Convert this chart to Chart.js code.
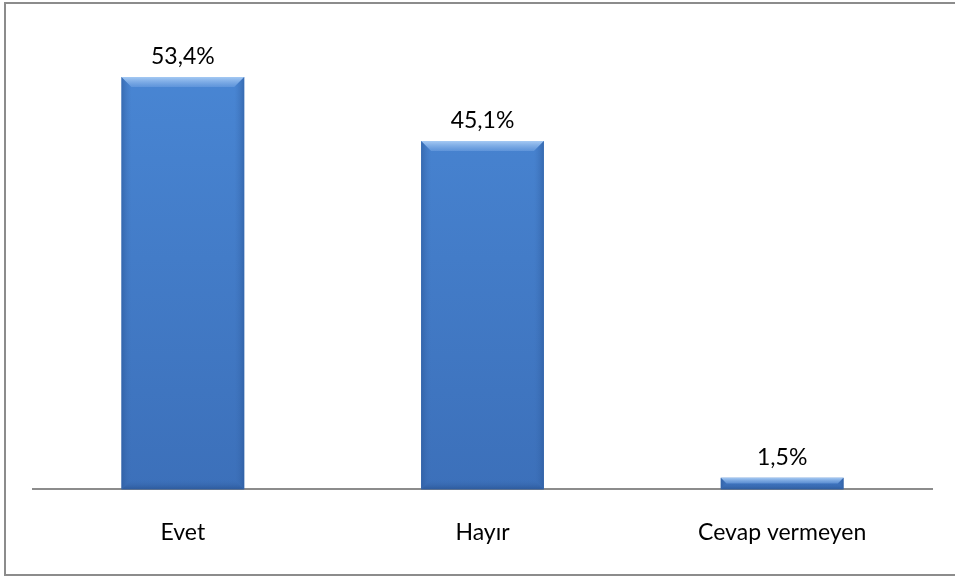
<!DOCTYPE html>
<html>
<head>
<meta charset="utf-8">
<script src="https://cdn.jsdelivr.net/npm/chart.js@4/dist/chart.umd.min.js"></script>
<style>
  html, body { margin: 0; padding: 0; background: #fff; }
  #wrap { width: 955px; height: 576px; position: relative; }
</style>
</head>
<body>
<div id="wrap"><canvas id="c" width="955" height="576"></canvas></div>
<script>
const categories = ["Evet", "Hayır", "Cevap vermeyen"];
const values = [53.4, 45.1, 1.5];
const valueLabels = ["53,4%", "45,1%", "1,5%"];

const FONT = "Lato, 'Open Sans', sans-serif";

const framePlugin = {
  id: 'frame',
  beforeDraw(chart) {
    const ctx = chart.ctx;
    ctx.save();
    ctx.fillStyle = '#fff';
    ctx.fillRect(0, 0, chart.width, chart.height);
    ctx.strokeStyle = '#8c8c8c';
    ctx.lineWidth = 2;
    ctx.strokeRect(5, 3, 970, 572);
    ctx.restore();
  }
};

const bevelPlugin = {
  id: 'bevel',
  afterDatasetsDraw(chart) {
    const ctx = chart.ctx;
    const meta = chart.getDatasetMeta(0);
    meta.data.forEach((bar, i) => {
      const { x, y, base, width } = bar.getProps(['x', 'y', 'base', 'width'], true);
      const l = x - width / 2, r = x + width / 2, t = y, b = base;
      const h = b - t;
      const e = Math.min(10, h / 2, width / 2);
      ctx.save();
      ctx.beginPath();
      ctx.moveTo(l, t); ctx.lineTo(r, t); ctx.lineTo(r - e, t + e); ctx.lineTo(l + e, t + e); ctx.closePath();
      let g = ctx.createLinearGradient(0, t, 0, t + e);
      g.addColorStop(0, 'rgba(170,205,245,0.95)');
      g.addColorStop(1, 'rgba(110,160,225,0.6)');
      ctx.fillStyle = g; ctx.fill();
      ctx.beginPath();
      ctx.moveTo(l, t); ctx.lineTo(l + e, t + e); ctx.lineTo(l + e, b - e); ctx.lineTo(l, b); ctx.closePath();
      g = ctx.createLinearGradient(l, 0, l + e, 0);
      g.addColorStop(0, 'rgba(40,85,150,0.55)');
      g.addColorStop(1, 'rgba(60,110,180,0.0)');
      ctx.fillStyle = g; ctx.fill();
      ctx.beginPath();
      ctx.moveTo(r, t); ctx.lineTo(r - e, t + e); ctx.lineTo(r - e, b - e); ctx.lineTo(r, b); ctx.closePath();
      g = ctx.createLinearGradient(r, 0, r - e, 0);
      g.addColorStop(0, 'rgba(40,85,150,0.55)');
      g.addColorStop(1, 'rgba(60,110,180,0.0)');
      ctx.fillStyle = g; ctx.fill();
      ctx.beginPath();
      ctx.moveTo(l, b); ctx.lineTo(r, b); ctx.lineTo(r - e, b - e); ctx.lineTo(l + e, b - e); ctx.closePath();
      g = ctx.createLinearGradient(0, b, 0, b - e);
      g.addColorStop(0, 'rgba(35,75,135,0.6)');
      g.addColorStop(1, 'rgba(60,110,180,0.0)');
      ctx.fillStyle = g; ctx.fill();
      ctx.restore();
      ctx.save();
      ctx.fillStyle = '#000';
      ctx.font = "23px " + FONT;
      ctx.textAlign = 'center';
      ctx.textBaseline = 'middle';
      ctx.fillText(valueLabels[i], x, t - 20);
      ctx.restore();
    });
  }
};

new Chart(document.getElementById('c'), {
  type: 'bar',
  data: {
    labels: categories,
    datasets: [{
      data: values,
      backgroundColor: (c) => {
        const chart = c.chart;
        const area = chart.chartArea;
        if (!area) return '#4a84d0';
        const g = chart.ctx.createLinearGradient(0, area.top, 0, area.bottom);
        g.addColorStop(0, '#4a88d6');
        g.addColorStop(1, '#3c70ba');
        return g;
      },
      borderWidth: 0,
      barPercentage: 1,
      categoryPercentage: 0.41
    }]
  },
  options: {
    responsive: false,
    animation: false,
    events: [],
    layout: { padding: { left: 33, right: 23, top: 26, bottom: 1 } },
    plugins: { legend: { display: false }, tooltip: { enabled: false } },
    scales: {
      x: {
        grid: { display: false, drawTicks: false },
        border: { display: true, color: '#8c8c8c', width: 2 },
        ticks: { color: '#000', font: { size: 23, family: FONT }, padding: 29 }
      },
      y: {
        display: false,
        min: 0,
        max: 60
      }
    }
  },
  plugins: [framePlugin, bevelPlugin]
});
</script>
</body>
</html>
